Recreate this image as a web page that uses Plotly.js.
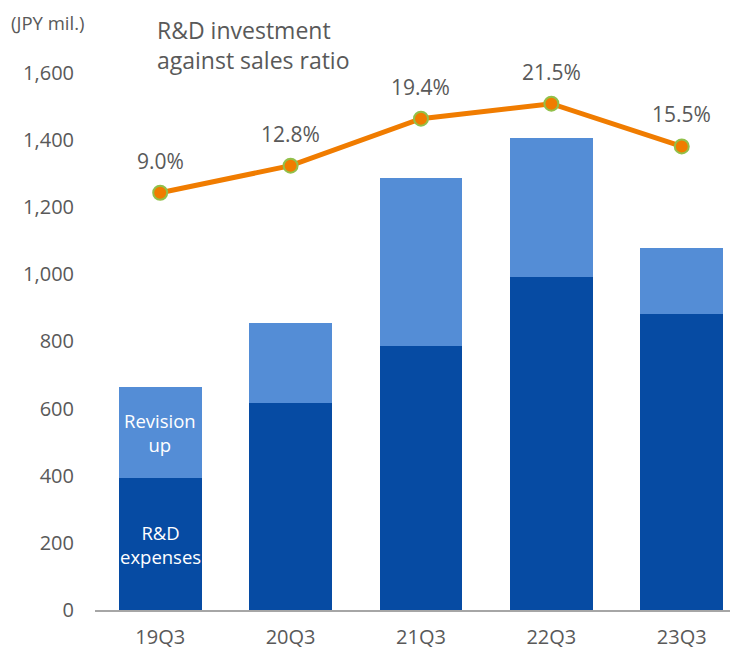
<!DOCTYPE html>
<html><head><meta charset="utf-8">
<script src="https://cdn.plot.ly/plotly-3.0.1.min.js"></script>
<style>body{margin:0;background:#fff}#c{width:730px;height:652px}</style>
</head><body><div id="c"></div>
<script>
const categories = ["19Q3","20Q3","21Q3","22Q3","23Q3"];
const rdExpenses = [393, 618, 787, 993, 882];
const revisionUp = [271, 237, 501, 412, 196];
const salesRatio = [9.0, 12.8, 19.4, 21.5, 15.5];
const ratioLabels = ["9.0%","12.8%","19.4%","21.5%","15.5%"];

const font = "'Open Sans', 'Noto Sans', sans-serif";
const grey = "#595959";

const traces = [
  {type:"bar", x:categories, y:rdExpenses, name:"R&D expenses", marker:{color:"#064BA3"}, hoverinfo:"skip"},
  {type:"bar", x:categories, y:revisionUp, name:"Revision up", marker:{color:"#548DD6"}, hoverinfo:"skip"},
  {type:"scatter", mode:"lines+markers", x:categories, y:salesRatio, yaxis:"y2",
   line:{color:"#F07C00", width:5},
   marker:{size:14, color:"#F07C00", line:{color:"#92C04A", width:2}}, hoverinfo:"skip"}
];

const annotations = categories.map((c,i)=>({x:c, y:salesRatio[i], xref:"x", yref:"y2", text:ratioLabels[i],
  showarrow:false, yshift:32, font:{family:font, size:21, color:grey}}));
annotations.push({x:categories[0], y:rdExpenses[0]+revisionUp[0]/2, xref:"x", yref:"y", text:"Revision<br>up",
  showarrow:false, font:{family:font, size:18.5, color:"#ffffff"}});
annotations.push({x:categories[0], y:rdExpenses[0]/2, xref:"x", yref:"y", text:"R&D<br>expenses",
  showarrow:false, font:{family:font, size:18.5, color:"#ffffff"}});
annotations.push({xref:"paper", yref:"paper", x:-0.135, y:1, text:"(JPY mil.)", showarrow:false,
  xanchor:"left", yanchor:"bottom", yshift:19, font:{family:font, size:18.5, color:grey}});
annotations.push({xref:"paper", yref:"paper", x:0.094, y:1, text:"R&D investment<br>against sales ratio", showarrow:false,
  xanchor:"left", yanchor:"bottom", align:"left", yshift:-22, font:{family:font, size:23, color:grey}});

const layout = {
  width:730, height:652,
  margin:{l:95, r:0, t:56, b:42},
  paper_bgcolor:"#fff", plot_bgcolor:"#fff",
  barmode:"stack", bargap:0.365, showlegend:false,
  xaxis:{type:"category", range:[-0.5, 4.37], showgrid:false, zeroline:false,
    showline:true, linecolor:"#A6A6A6", linewidth:2, ticks:"", ticklabelstandoff:8,
    tickfont:{family:font, size:20, color:grey}},
  yaxis:{range:[0,1650], tickvals:[0,200,400,600,800,1000,1200,1400,1600],
    ticktext:["0","200","400","600","800","1,000","1,200","1,400","1,600"],
    showgrid:false, zeroline:false, showline:false, ticks:"", ticklabelstandoff:20,
    tickfont:{family:font, size:20, color:grey}},
  yaxis2:{overlaying:"y", side:"right", range:[-49.6, 28.2], visible:false, showgrid:false, zeroline:false},
  annotations:annotations
};
Plotly.newPlot("c", traces, layout, {displayModeBar:false, staticPlot:true});
</script></body></html>
